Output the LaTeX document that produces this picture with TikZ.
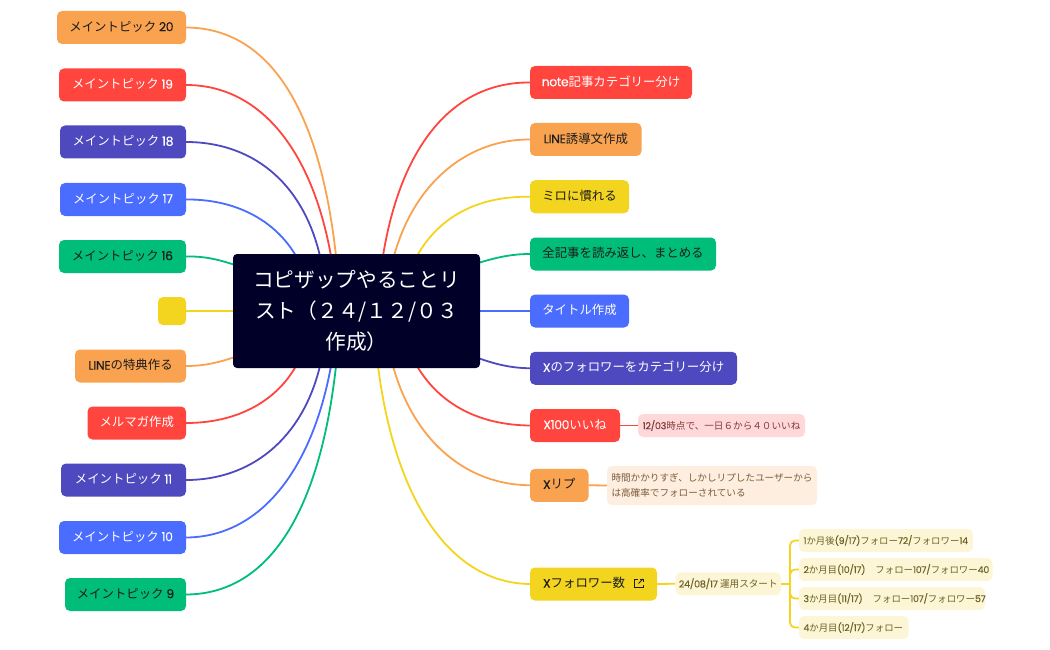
\documentclass[tikz,border=0pt]{standalone}
\usepackage{fontspec}
\setmainfont{Noto Sans CJK JP}
\newfontfamily\latfont[LetterSpace=-3,FakeBold=0.25]{Poppins}
\newcommand{\lat}[1]{{\latfont #1}}

\definecolor{mmorange}{HTML}{F9A24F}
\definecolor{mmred}{HTML}{FF453E}
\definecolor{mmindigo}{HTML}{4E49BE}
\definecolor{mmblue}{HTML}{4A6CFF}
\definecolor{mmgreen}{HTML}{00BD79}
\definecolor{mmyellow}{HTML}{F3D41F}
\definecolor{mmdark}{HTML}{000028}
\definecolor{mmink}{HTML}{1C1C1C}
\definecolor{dtlred}{HTML}{FFD9D9}
\definecolor{dtlorange}{HTML}{FEEEE0}
\definecolor{dtlyellow}{HTML}{FCF6D6}
\definecolor{dtxred}{HTML}{7F3A3A}
\definecolor{dtxorange}{HTML}{7D5C3C}
\definecolor{dtxyellow}{HTML}{6E6224}

\tikzset{
  rootnode/.style={fill=mmdark,rounded corners=4pt,inner sep=0pt,text=white,align=center,
    font=\fontsize{20.7}{31}\selectfont},
  tpc/.style={rounded corners=5pt,inner sep=0pt,minimum height=33pt,text height=10pt,text depth=2.6pt,
    font=\fontsize{12.4}{15}\selectfont},
  dtl/.style={rounded corners=5pt,inner sep=0pt,minimum height=23pt,
    font=\fontsize{9.6}{14.5}\selectfont},
  mon/.style={dtl,fill=dtlyellow,text=dtxyellow,inner xsep=4.5pt,align=left,
    font=\fontsize{9.4}{14.5}\selectfont},
  lnk/.style={line width=1.8pt},
}

\begin{document}
\begin{tikzpicture}[x=1pt,y=-1pt]
\useasboundingbox (0,0) rectangle (1050,650);

% left side
\node[tpc,fill=mmorange,text=mmink,minimum width=129pt] (t20) at (121.5,27.5) {メイントピック \lat{20}};
\node[tpc,fill=mmred,text=white,minimum width=127pt] (t19) at (122.5,85) {メイントピック \lat{19}};
\node[tpc,fill=mmindigo,text=white,minimum width=126pt] (t18) at (123,142) {メイントピック \lat{18}};
\node[tpc,fill=mmblue,text=white,minimum width=126pt] (t17) at (123,199.5) {メイントピック \lat{17}};
\node[tpc,fill=mmgreen,text=mmink,minimum width=127pt] (t16) at (122.5,256.5) {メイントピック \lat{16}};
\node[rounded corners=5pt,inner sep=0pt,fill=mmyellow,minimum width=28pt,minimum height=28pt] (t15) at (172,311) {};
\node[tpc,fill=mmorange,text=mmink,minimum width=111pt] (t14) at (130.5,366) {\lat{LINE}の特典作る};
\node[tpc,fill=mmred,text=white,minimum width=98.5pt] (t13) at (136.75,423) {メルマガ作成};
\node[tpc,fill=mmindigo,text=white,minimum width=125pt] (t11) at (123.5,480) {メイントピック \lat{11}};
\node[tpc,fill=mmblue,text=white,minimum width=127pt] (t10) at (122.5,537.5) {メイントピック \lat{10}};
\node[tpc,fill=mmgreen,text=mmink,minimum width=121pt] (t9) at (125.5,594.5) {メイントピック \lat{9}};

% right side
\node[tpc,fill=mmred,text=white,minimum width=162pt] (rnote) at (611,82.5) {\lat{note}記事カテゴリー分け};
\node[tpc,fill=mmorange,text=mmink,minimum width=111.5pt] (rline) at (585.75,139.5) {\lat{LINE}誘導文作成};
\node[tpc,fill=mmyellow,text=mmink,minimum width=99pt] (rmiro) at (579.5,196.75) {ミロに慣れる};
\node[tpc,fill=mmgreen,text=mmink,minimum width=186pt] (rread) at (623,254) {全記事を読み返し、まとめる};
\node[tpc,fill=mmblue,text=white,minimum width=99pt] (rtitle) at (579.5,311) {タイトル作成};
\node[tpc,fill=mmindigo,text=white,minimum width=207pt] (rcat) at (633.5,368.25) {\lat{X}のフォロワーをカテゴリー分け};
\node[tpc,fill=mmred,text=white,minimum width=90pt] (rlike) at (575,425.5) {\lat{X100}いいね};
\node[tpc,fill=mmorange,text=mmink,minimum width=58.5pt] (rrep) at (559.25,485.25) {\lat{X}リプ};
\node[tpc,fill=mmyellow,text=mmink,minimum width=127pt,text width=101pt,align=left] (rfol) at (593.5,584) {\lat{X}フォロワー数};

% details
\node[dtl,fill=dtlred,text=dtxred,minimum width=167pt] (dlike) at (721.5,425.5) {\lat{12/03}時点で、一日６から４０いいね};
\node[dtl,fill=dtlorange,text=dtxorange,minimum width=210pt,minimum height=39pt,align=left] (drep) at (712,485.5) {時間かかりすぎ、しかしリプしたユーザーから\\は高確率でフォローされている};
\node[dtl,fill=dtlyellow,text=dtxyellow,minimum width=105.5pt] (dstart) at (728.25,583.75) {\lat{24/08/17} 運用スタート};
\node[mon,text width=165pt] (dm1) at (886,540.5) {\mbox{\lat{1}か月後\lat{(9/17)}フォロー\lat{72/}フォロワー\lat{14}}};
\node[mon,text width=184.5pt] (dm2) at (895.75,569.5) {\mbox{\lat{2}か月目\lat{(10/17)}\hspace{10pt}フォロー\lat{107/}フォロワー\lat{40}}};
\node[mon,text width=177pt] (dm3) at (892,598.5) {\mbox{\lat{3}か月目\lat{(11/17)}\hspace{10pt}フォロー\lat{107/}フォロワー\lat{57}}};
\node[mon,text width=100.5pt] (dm4) at (853.75,627.5) {\mbox{\lat{4}か月目\lat{(12/17)}フォロー}};

% root ends of the curves
\coordinate (e20) at (336,256);
\coordinate (e19) at (331,256);
\coordinate (e18) at (320,256);
\coordinate (e17) at (296,256);
\coordinate (e16) at (235,265);
\coordinate (e14) at (235,357);
\coordinate (e13) at (296,366);
\coordinate (e11) at (320,366);
\coordinate (e10) at (331,366);
\coordinate (e9) at (336,366);
\coordinate (enote) at (383,256);
\coordinate (eline) at (394,256);
\coordinate (emiro) at (417,256);
\coordinate (eread) at (478,263);
\coordinate (ecat) at (478,358);
\coordinate (elike) at (417,366);
\coordinate (erep) at (393,366);
\coordinate (efol) at (378,366);
\coordinate (fork) at (790,583.75);

\draw[lnk,mmorange] (t20.east) .. controls (270,28) and (320,110) .. (e20);
\draw[lnk,mmred] (t19.east) .. controls (260,85) and (312,150) .. (e19);
\draw[lnk,mmindigo] (t18.east) .. controls (250,142) and (302,180) .. (e18);
\draw[lnk,mmblue] (t17.east) .. controls (235,199) and (275,220) .. (e17);
\draw[lnk,mmgreen] (t16.east) .. controls (205,256) and (220,260) .. (e16);
\draw[lnk,mmyellow] (t15.east) -- (235,311);
\draw[lnk,mmorange] (t14.east) .. controls (205,366) and (220,362) .. (e14);
\draw[lnk,mmred] (t13.east) .. controls (235,423) and (275,403) .. (e13);
\draw[lnk,mmindigo] (t11.east) .. controls (250,480) and (302,440) .. (e11);
\draw[lnk,mmblue] (t10.east) .. controls (260,537) and (312,470) .. (e10);
\draw[lnk,mmgreen] (t9.east) .. controls (270,594) and (320,510) .. (e9);

\draw[lnk,mmred] (rnote.west) .. controls (450,82) and (400,150) .. (enote);
\draw[lnk,mmorange] (rline.west) .. controls (470,139) and (415,180) .. (eline);
\draw[lnk,mmyellow] (rmiro.west) .. controls (480,196) and (440,215) .. (emiro);
\draw[lnk,mmgreen] (rread.west) .. controls (510,254) and (495,258) .. (eread);
\draw[lnk,mmblue] (rtitle.west) -- (478,311);
\draw[lnk,mmindigo] (rcat.west) .. controls (510,368) and (495,364) .. (ecat);
\draw[lnk,mmred] (rlike.west) .. controls (480,425) and (440,405) .. (elike);
\draw[lnk,mmorange] (rrep.west) .. controls (470,485) and (415,445) .. (erep);
\draw[lnk,mmyellow] (rfol.west) .. controls (450,583) and (395,500) .. (efol);

\draw[lnk,mmred] (rlike.east) -- (dlike.west);
\draw[lnk,mmorange] (rrep.east) -- (drep.west);
\draw[lnk,mmyellow] (rfol.east) -- (dstart.west);
\draw[lnk,mmyellow] (dstart.east) -- (fork);
\draw[lnk,mmyellow,rounded corners=5pt] (fork) |- (dm1.west);
\draw[lnk,mmyellow,rounded corners=5pt] (fork) |- (dm2.west);
\draw[lnk,mmyellow,rounded corners=5pt] (fork) |- (dm3.west);
\draw[lnk,mmyellow,rounded corners=5pt] (fork) |- (dm4.west);

% link mark
\draw[mmink,line width=1pt] (638,579) -- (634.5,579) -- (634.5,587.5) -- (643,587.5) -- (643,584.5);
\draw[mmink,line width=1pt] (638.5,583.5) -- (643,579);
\draw[mmink,line width=1pt] (640,579) -- (643,579) -- (643,582);

\node[rootnode,minimum width=247pt,minimum height=114pt] (root) at (356.5,311) {コピザップやることリ\\スト（２４/１２/０３\\作成）};
\end{tikzpicture}
\end{document}
